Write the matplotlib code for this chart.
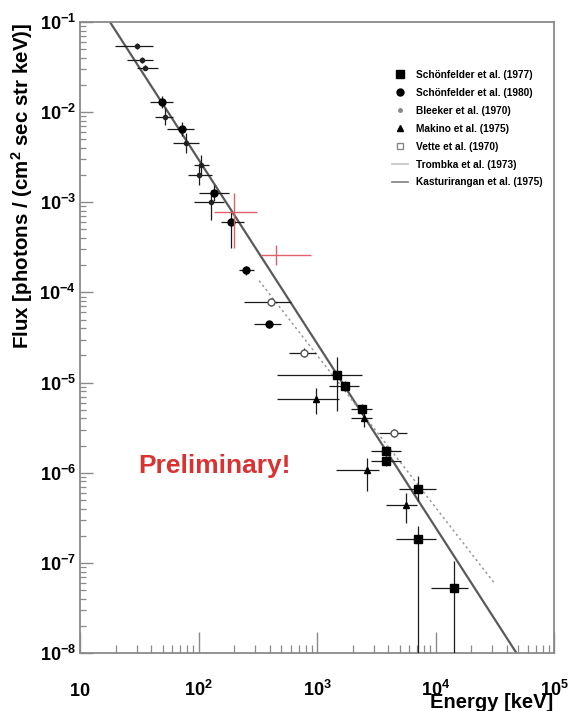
import matplotlib
matplotlib.use("Agg")
import matplotlib.pyplot as plt
from matplotlib.lines import Line2D
from matplotlib.ticker import LogLocator, NullFormatter
import numpy as np

plt.rcParams['font.family'] = ['Liberation Sans', 'DejaVu Sans']
plt.rcParams['font.weight'] = 'bold'
plt.rcParams['mathtext.fontset'] = 'custom'
plt.rcParams['mathtext.rm'] = 'Liberation Sans:bold'
plt.rcParams['mathtext.bf'] = 'Liberation Sans:bold'
plt.rcParams['mathtext.it'] = 'Liberation Sans:bold'
plt.rcParams['mathtext.default'] = 'rm'

# ---- Schoenfelder et al. (1977) ----
s77_E = [1472, 1718, 2388, 3802, 3802, 7063, 7063, 14450]
s77_F = [1.20e-5, 9.26e-6, 5.14e-6, 1.76e-6, 1.36e-6, 6.64e-7, 1.85e-7, 5.27e-8]
s77_Elo = [461, 1262, 1932, 2844, 2844, 4886, 4613, 9078]
s77_Ehi = [2388, 2254, 2897, 5082, 5082, 10000, 10000, 18930]
s77_Flo = [4.89e-6, 8.15e-6, 4.52e-6, 1.55e-6, 1.20e-6, 4.89e-7, 1e-9, 1e-9]
s77_Fhi = [1.90e-5, 1.05e-5, 5.84e-6, 2.00e-6, 1.55e-6, 9.26e-7, 2.58e-7, 1.05e-7]

# ---- Schoenfelder et al. (1980) ----
s80_E = [48.9, 71.9, 136.1, 189.2, 252.9, 395]
s80_F = [1.29e-2, 6.47e-3, 1.26e-3, 6.0e-4, 1.76e-4, 4.41e-5]
s80_Elo = [38.7, 53.8, 101.9, 156, 221, 295.6]
s80_Ehi = [60.5, 92.5, 182.4, 243.6, 295.6, 497.6]
s80_Flo = [1.11e-2, 5.41e-3, 1.03e-3, 3.08e-4, 1.58e-4, 3.98e-5]
s80_Fhi = [1.51e-2, 7.74e-3, 1.55e-3, 7.74e-4, 1.95e-4, 4.88e-5]

# ---- Bleeker et al. (1970) ----
bl_E = [30.2, 33.2, 35.2, 51.7, 79.2, 105.9, 101.9, 128.5]
bl_F = [5.41e-2, 3.78e-2, 3.08e-2, 8.8e-3, 4.53e-3, 2.58e-3, 2.0e-3, 1.0e-3]
bl_Elo = [19.7, 24.8, 30.1, 42.7, 60.5, 92.5, 80.9, 92.5]
bl_Ehi = [41.0, 41.0, 45.2, 60.5, 101.9, 123.6, 131.2, 165]
bl_Flo = [5.0e-2, 3.5e-2, 2.9e-2, 7.17e-3, 3.5e-3, 2.0e-3, 1.55e-3, 6.3e-4]
bl_Fhi = [5.85e-2, 4.1e-2, 3.3e-2, 1.11e-2, 5.85e-3, 3.33e-3, 2.58e-3, 1.36e-3]

# ---- Makino et al. (1975) ----
mk_E = [981, 2483, 2631, 5598]
mk_F = [6.64e-6, 4.09e-6, 1.08e-6, 4.41e-7]
mk_Elo = [461, 1932, 1445, 3802]
mk_Ehi = [1531, 2897, 3319, 6918]
mk_Flo = [4.53e-6, 3.24e-6, 6.31e-7, 2.78e-7]
mk_Fhi = [8.80e-6, 5.14e-6, 1.47e-6, 6.0e-7]

# ---- Vette et al. (1970) ----
ve_E = [410.6, 778, 4436]
ve_F = [7.74e-5, 2.15e-5, 2.78e-6]
ve_Elo = [243.6, 582, 3319]
ve_Ehi = [605, 981, 5702]
ve_Flo = [6.99e-5, 1.94e-5, 2.51e-6]
ve_Fhi = [8.58e-5, 2.39e-5, 3.08e-6]

# ---- new measurement (red) ----
new_E = [200.9, 452]
new_F = [7.74e-4, 2.58e-4]
new_Elo = [136.1, 338]
new_Ehi = [313.3, 891]
new_Flo = [3.08e-4, 2.0e-4]
new_Fhi = [1.26e-3, 3.33e-4]

# ---- power-law spectra ----
kast_E = [17.9, 48200]
kast_F = [1e-1, 1e-8]
tromb_E = [325, 31600]
tromb_F = [1.35e-4, 5.9e-8]

x_ticks = [10, 100, 1000, 10000, 100000]
x_labels = [r'$10$', r'$10^{2}$', r'$10^{3}$', r'$10^{4}$', r'$10^{5}$']
y_ticks = [1e-8, 1e-7, 1e-6, 1e-5, 1e-4, 1e-3, 1e-2, 1e-1]
y_labels = [r'$10^{-8}$', r'$10^{-7}$', r'$10^{-6}$', r'$10^{-5}$',
            r'$10^{-4}$', r'$10^{-3}$', r'$10^{-2}$', r'$10^{-1}$']

W, H = 571, 711
fig = plt.figure(figsize=(W / 100, H / 100), dpi=100)
ax = fig.add_axes([80 / W, 1 - 653 / H, 474 / W, 631 / H])
ax.set_xscale('log')
ax.set_yscale('log')
ax.set_xlim(10, 1e5)
ax.set_ylim(1e-8, 1e-1)

frame_c = '#8a8a8a'
for side, sp in ax.spines.items():
    sp.set_color(frame_c)
    sp.set_linewidth(1.3)


def errs(v, lo, hi):
    v = np.asarray(v, float)
    return [v - np.asarray(lo, float), np.asarray(hi, float) - v]


ebar_kw = dict(ecolor='#1a1a1a', elinewidth=0.9, capsize=0, linestyle='none', zorder=3)

# power laws
ax.plot(kast_E, kast_F, color='#5a5a5a', lw=1.6, zorder=2)
ax.plot(tromb_E, tromb_F, color='#9a9a9a', lw=1.1, ls=(0, (1.5, 2.0)), zorder=2)

ax.errorbar(bl_E, bl_F, xerr=errs(bl_E, bl_Elo, bl_Ehi), yerr=errs(bl_F, bl_Flo, bl_Fhi),
            fmt='o', ms=3, mfc='#222222', mec='#222222', **ebar_kw)
ax.errorbar(s80_E, s80_F, xerr=errs(s80_E, s80_Elo, s80_Ehi), yerr=errs(s80_F, s80_Flo, s80_Fhi),
            fmt='o', ms=5, mfc='black', mec='black', **ebar_kw)
ax.errorbar(mk_E, mk_F, xerr=errs(mk_E, mk_Elo, mk_Ehi), yerr=errs(mk_F, mk_Flo, mk_Fhi),
            fmt='^', ms=4, mfc='black', mec='black', **ebar_kw)
ax.errorbar(ve_E, ve_F, xerr=errs(ve_E, ve_Elo, ve_Ehi), yerr=errs(ve_F, ve_Flo, ve_Fhi),
            fmt='o', ms=5, mfc='white', mec='#555555', mew=1.0, **ebar_kw)
ax.errorbar(s77_E, s77_F, xerr=errs(s77_E, s77_Elo, s77_Ehi), yerr=errs(s77_F, s77_Flo, s77_Fhi),
            fmt='s', ms=6, mfc='black', mec='black', **ebar_kw)
ax.errorbar(new_E, new_F, xerr=errs(new_E, new_Elo, new_Ehi), yerr=errs(new_F, new_Flo, new_Fhi),
            fmt='none', ecolor='#e0606a', elinewidth=1.0, capsize=0, zorder=4)

# ticks: inside, left and bottom only
ax.xaxis.set_minor_locator(LogLocator(base=10, subs=np.arange(2, 10), numticks=20))
ax.yaxis.set_minor_locator(LogLocator(base=10, subs=np.arange(2, 10), numticks=20))
ax.xaxis.set_minor_formatter(NullFormatter())
ax.yaxis.set_minor_formatter(NullFormatter())
ax.set_xticks(x_ticks, x_labels, va='baseline')
ax.set_yticks(y_ticks, y_labels)
ax.tick_params(axis='both', which='both', direction='in', colors=frame_c,
               labelcolor='black', top=False, right=False)
ax.tick_params(axis='x', which='major', length=15, width=1.0, pad=31, labelsize=13)
ax.tick_params(axis='x', which='minor', length=6, width=0.9)
ax.tick_params(axis='y', which='major', length=9, width=1.0, pad=3, labelsize=13)
ax.tick_params(axis='y', which='minor', length=4.5, width=0.9)

# axis titles
fig.text(553 / W, 1 - 702 / H, 'Energy [keV]', ha='right', va='center',
         fontsize=14.5, fontweight='bold')
fig.text(22 / W, 1 - 186 / H, r'Flux [photons / (cm$^{2}$ sec str keV)]',
         rotation=90, ha='center', va='center', fontsize=14.8, fontweight='bold')

fig.text(214 / W, 1 - 466 / H, 'Preliminary!', ha='center', va='center',
         fontsize=19, fontweight='bold', color='#d83232')

handles = [
    Line2D([], [], ls='none', marker='s', ms=6, mfc='black', mec='black'),
    Line2D([], [], ls='none', marker='o', ms=5, mfc='black', mec='black'),
    Line2D([], [], ls='none', marker='o', ms=2.5, mfc='#888888', mec='#888888'),
    Line2D([], [], ls='none', marker='^', ms=4, mfc='black', mec='black'),
    Line2D([], [], ls='none', marker='s', ms=5, mfc='white', mec='#888888'),
    Line2D([], [], color='#c8c8c8', lw=1.3),
    Line2D([], [], color='#8a8a8a', lw=1.3),
]
labels = ['Schönfelder et al. (1977)', 'Schönfelder et al. (1980)',
          'Bleeker et al. (1970)', 'Makino et al. (1975)', 'Vette et al. (1970)',
          'Trombka et al. (1973)', 'Kasturirangan et al. (1975)']
fig.legend(handles, labels, loc='upper left', bbox_to_anchor=(392 / W, 1 - 70 / H),
           frameon=False, handlelength=1.6, handletextpad=0.75,
           labelspacing=0.78, borderpad=0, borderaxespad=0,
           prop={'weight': 'bold', 'size': 7.3})

fig.savefig('out.png', dpi=100)
